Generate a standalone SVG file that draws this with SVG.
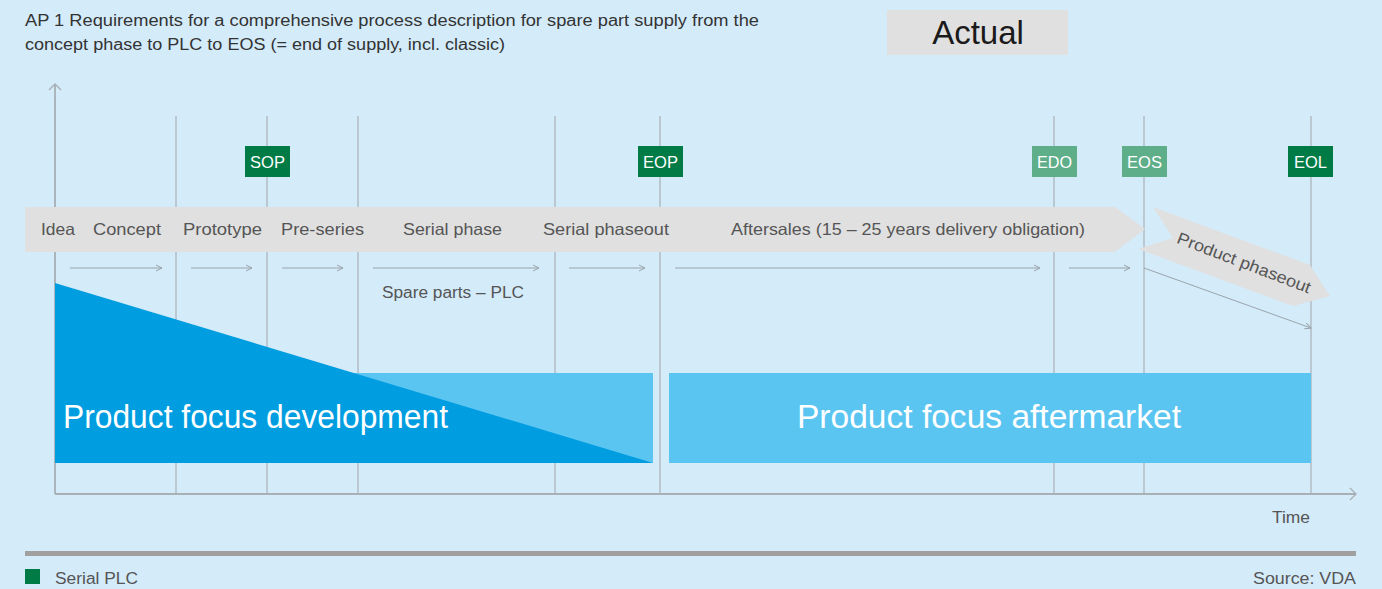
<svg xmlns="http://www.w3.org/2000/svg" width="1382" height="589" viewBox="0 0 1382 589">
<defs>
<marker id="ah" markerWidth="8" markerHeight="8" refX="7" refY="4" orient="auto" markerUnits="userSpaceOnUse">
<path d="M1,1 L7,4 L1,7" fill="none" stroke="#9aa3ab" stroke-width="1"/>
</marker>
<marker id="axh" markerWidth="14" markerHeight="14" refX="11" refY="7" orient="auto" markerUnits="userSpaceOnUse">
<path d="M5,1 L11,7 L5,13" fill="none" stroke="#a8afb5" stroke-width="1.3"/>
</marker>
<style>
.t{font-family:"Liberation Sans",Arial,sans-serif;}
.band{font-size:16.5px;fill:#555;}
.grid{stroke:#b4bcc3;stroke-width:1.5;}
.sm{stroke:#9aa3ab;stroke-width:1;fill:none;marker-end:url(#ah);}
.gl{font-size:17px;fill:#fff;}
.big{font-size:34px;fill:#fff;}
</style>
</defs>
<rect width="1382" height="589" fill="#d4ebfa"/>

<g id="title">
<text class="t" x="25" y="26" font-size="16" fill="#333" textLength="734" lengthAdjust="spacingAndGlyphs">AP 1 Requirements for a comprehensive process description for spare part supply from the</text>
<text class="t" x="25" y="50" font-size="16" fill="#333" textLength="480" lengthAdjust="spacingAndGlyphs">concept phase to PLC to EOS (= end of supply, incl. classic)</text>
</g>

<g id="actual">
<rect x="887" y="10" width="181" height="45" fill="#e0e0e0"/>
<text class="t" x="978" y="44" font-size="33" fill="#1a1a1a" text-anchor="middle">Actual</text>
</g>

<g id="grid">
<line class="grid" x1="176" y1="116" x2="176" y2="494"/>
<line class="grid" x1="267" y1="116" x2="267" y2="494"/>
<line class="grid" x1="358" y1="116" x2="358" y2="494"/>
<line class="grid" x1="555" y1="116" x2="555" y2="494"/>
<line class="grid" x1="660" y1="116" x2="660" y2="494"/>
<line class="grid" x1="1054" y1="116" x2="1054" y2="494"/>
<line class="grid" x1="1144" y1="116" x2="1144" y2="494"/>
<line class="grid" x1="1311" y1="116" x2="1311" y2="494"/>
</g>

<g id="axes">
<line x1="55" y1="494" x2="55" y2="84" stroke="#a8afb5" stroke-width="1.8" marker-end="url(#axh)"/>
<line x1="55" y1="494" x2="1356" y2="494" stroke="#a8afb5" stroke-width="1.8" marker-end="url(#axh)"/>
</g>

<g id="milestones">
<g id="sop"><rect x="245" y="146" width="45" height="31" fill="#007b45"/><text class="t gl" x="267.5" y="168" text-anchor="middle" textLength="35" lengthAdjust="spacingAndGlyphs">SOP</text></g>
<g id="eop"><rect x="638" y="146" width="45" height="31" fill="#007b45"/><text class="t gl" x="660.5" y="168" text-anchor="middle" textLength="35" lengthAdjust="spacingAndGlyphs">EOP</text></g>
<g id="edo"><rect x="1032" y="146" width="45" height="31" fill="#5fae8a"/><text class="t gl" x="1054.5" y="168" text-anchor="middle" textLength="35" lengthAdjust="spacingAndGlyphs">EDO</text></g>
<g id="eos"><rect x="1122" y="146" width="45" height="31" fill="#5fae8a"/><text class="t gl" x="1144.5" y="168" text-anchor="middle" textLength="35" lengthAdjust="spacingAndGlyphs">EOS</text></g>
<g id="eol"><rect x="1288" y="146" width="45" height="31" fill="#007b45"/><text class="t gl" x="1310.5" y="168" text-anchor="middle" textLength="33" lengthAdjust="spacingAndGlyphs">EOL</text></g>
</g>

<g id="phase-band">
<polygon points="25,207 1115,207 1145,229 1115,252 25,252" fill="#e0e0e0"/>
<text class="t band" x="41" y="235" textLength="34" lengthAdjust="spacingAndGlyphs">Idea</text>
<text class="t band" x="93" y="235" textLength="68" lengthAdjust="spacingAndGlyphs">Concept</text>
<text class="t band" x="183" y="235" textLength="79" lengthAdjust="spacingAndGlyphs">Prototype</text>
<text class="t band" x="281" y="235" textLength="83" lengthAdjust="spacingAndGlyphs">Pre-series</text>
<text class="t band" x="403" y="235" textLength="99" lengthAdjust="spacingAndGlyphs">Serial phase</text>
<text class="t band" x="543" y="235" textLength="126" lengthAdjust="spacingAndGlyphs">Serial phaseout</text>
<text class="t band" x="731" y="235" textLength="354" lengthAdjust="spacingAndGlyphs">Aftersales (15 – 25 years delivery obligation)</text>
</g>

<g id="phaseout">
<polygon points="1153,207 1310,265 1330,296 1293,306 1138,249 1173,238" fill="#e0e0e0"/>
<text class="t band" x="0" y="0" text-anchor="middle" transform="translate(1242,268) rotate(21)" textLength="142" lengthAdjust="spacingAndGlyphs">Product phaseout</text>
</g>

<g id="connectors">
<line class="sm" x1="70" y1="268" x2="162" y2="268"/>
<line class="sm" x1="191" y1="268" x2="252" y2="268"/>
<line class="sm" x1="282" y1="268" x2="343" y2="268"/>
<line class="sm" x1="373" y1="268" x2="539" y2="268"/>
<line class="sm" x1="569" y1="268" x2="645" y2="268"/>
<line class="sm" x1="675" y1="268" x2="1040" y2="268"/>
<line class="sm" x1="1069" y1="268" x2="1130" y2="268"/>
<line class="sm" x1="1144" y1="268" x2="1311" y2="328"/>
</g>
<text class="t" x="453" y="298" font-size="16" fill="#555" text-anchor="middle" textLength="142" lengthAdjust="spacingAndGlyphs">Spare parts – PLC</text>

<g id="focus-development">
<rect x="55" y="373" width="598" height="90" fill="#5bc5f2"/>
<polygon points="55,283 653,463 55,463" fill="#009de0"/>
<text class="t big" x="63" y="428" textLength="385" lengthAdjust="spacingAndGlyphs">Product focus development</text>
</g>

<g id="focus-aftermarket">
<rect x="669" y="373" width="642" height="90" fill="#5bc5f2"/>
<text class="t big" x="989" y="428" text-anchor="middle" textLength="384" lengthAdjust="spacingAndGlyphs">Product focus aftermarket</text>
</g>

<text class="t" x="1310" y="523" font-size="16" fill="#555" text-anchor="end" textLength="38" lengthAdjust="spacingAndGlyphs">Time</text>

<g id="footer">
<rect x="25" y="551" width="1331" height="5" fill="#a0a0a0"/>
<rect x="25" y="569" width="15" height="15" fill="#007b45"/>
<text class="t" x="55" y="584" font-size="16" fill="#555" textLength="83" lengthAdjust="spacingAndGlyphs">Serial PLC</text>
<text class="t" x="1356" y="584" font-size="16" fill="#555" text-anchor="end" textLength="103" lengthAdjust="spacingAndGlyphs">Source: VDA</text>
</g>
</svg>
